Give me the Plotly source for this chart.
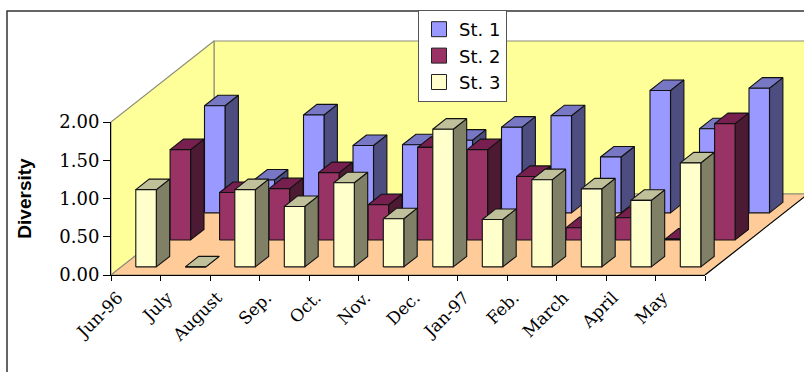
import plotly.graph_objects as go

# --- data ---
categories = ["Jun-96", "July", "August", "Sep.", "Oct.", "Nov.", "Dec.", "Jan-97", "Feb.", "March", "April", "May"]
st1 = [1.40, 0.43, 1.28, 0.88, 0.89, 0.95, 1.12, 1.27, 0.73, 1.60, 1.10, 1.63]
st2 = [1.18, 0.62, 0.67, 0.88, 0.46, 1.21, 1.18, 0.83, 0.16, 0.29, 0.01, 1.52]
st3 = [1.01, 0.00, 1.01, 0.79, 1.10, 0.63, 1.80, 0.62, 1.14, 1.02, 0.87, 1.36]
y_ticks = [0, 0.5, 1.0, 1.5, 2.0]

# --- layout in pixels ---
W, H = 804, 372
X0_PX, X1_PX = 111, 705      # front axis, left and right ends
Y0_PX, Y2_PX = 275, 122      # value 0 and value 2 on the front plane
N = len(categories)
Z = y_ticks[-1]
PX_X = (X1_PX - X0_PX) / N
PX_Y = (Y0_PX - Y2_PX) / Z

# --- oblique 3-D geometry, in axis units ---
DX, DY = 103 / PX_X, 81 / PX_Y  # shift of the back wall relative to the front plane
BAR_W, BAR_D = 0.414, 0.13      # bar width (categories) and depth (fraction of depth)
ROW_D = {"St. 1": 0.767, "St. 2": 0.433, "St. 3": 0.10}

def P(x, v, d):
    return x + d * DX, v + d * DY

def poly(points):
    xs, ys = zip(*points)
    return list(xs) + [xs[0], None], list(ys) + [ys[0], None]

def face(pts_list, fill, line, width=1.1):
    X, Y = [], []
    for pts in pts_list:
        a, b = poly(pts)
        X += a
        Y += b
    return go.Scatter(x=X, y=Y, mode="lines", fill="toself", fillcolor=fill,
                      line=dict(color=line, width=width), showlegend=False,
                      hoverinfo="skip")

fig = go.Figure()

# walls and floor
fig.add_trace(face([[P(0, 0, 1), P(N, 0, 1), P(N, Z, 1), P(0, Z, 1)]], "#FFFF99", "#8C8C78"))
fig.add_trace(face([[P(0, 0, 0), P(0, 0, 1), P(0, Z, 1), P(0, Z, 0)]], "#FFFF99", "#8C8C78"))
fig.add_trace(face([[P(0, 0, 0), P(N, 0, 0), P(N, 0, 1), P(0, 0, 1)]], "#FFCC99", "#8C8C78"))
fig.add_trace(go.Scatter(x=[P(N, 0, 0)[0], P(N, 0, 1)[0]], y=[P(N, 0, 0)[1], P(N, 0, 1)[1]],
                         mode="lines", line=dict(color="#000000", width=1.1), showlegend=False,
                         hoverinfo="skip"))

series = [
    ("St. 1", st1, "#9999FF", "#7777C4", "#4D4D80"),
    ("St. 2", st2, "#993366", "#771F4F", "#4D1A33"),
    ("St. 3", st3, "#FFFFCC", "#C0C09A", "#808066"),
]
for name, vals, c_front, c_top, c_side in series:
    d0 = ROW_D[name]
    d1 = d0 + BAR_D
    fronts, sides, tops = [], [], []
    for i, v in enumerate(vals):
        x0 = i + (1 - BAR_W) / 2
        x1 = x0 + BAR_W
        fronts.append([P(x0, 0, d0), P(x1, 0, d0), P(x1, v, d0), P(x0, v, d0)])
        sides.append([P(x1, 0, d0), P(x1, 0, d1), P(x1, v, d1), P(x1, v, d0)])
        tops.append([P(x0, v, d0), P(x1, v, d0), P(x1, v, d1), P(x0, v, d1)])
    fig.add_trace(face(sides, c_side, "#111111"))
    fig.add_trace(face(tops, c_top, "#111111"))
    fig.add_trace(face(fronts, c_front, "#111111"))

# legend entries
for name, vals, c_front, c_top, c_side in series:
    fig.add_trace(go.Scatter(x=[None], y=[None], mode="markers", name=name,
                             marker=dict(symbol="square", size=15, color=c_front,
                                         line=dict(color="#222222", width=1))))

# carrier of the visible axes (front plane)
fig.add_trace(go.Scatter(x=[None], y=[None], xaxis="x2", yaxis="y2", mode="markers",
                         showlegend=False, hoverinfo="skip"))

BOTTOM = H - Y0_PX
fig.update_layout(
    width=W, height=H, autosize=False,
    margin=dict(l=0, r=0, t=0, b=BOTTOM, pad=0, autoexpand=False),
    paper_bgcolor="white", plot_bgcolor="rgba(0,0,0,0)",
    showlegend=True,
    legend=dict(x=418 / W, y=(Y0_PX - 10) / Y0_PX, xanchor="left", yanchor="top",
                bgcolor="white", bordercolor="#555555", borderwidth=1,
                font=dict(family="DejaVu Sans", size=18, color="black"),
                entrywidth=54, entrywidthmode="pixels", traceorder="normal"),
    # full-page axes that carry the marks, at the same scale as the front axes
    xaxis=dict(visible=False, domain=[0, 1],
               range=[-X0_PX / PX_X, (W - X0_PX) / PX_X]),
    yaxis=dict(visible=False, domain=[0, 1], range=[0, Y0_PX / PX_Y]),
    # visible axes
    xaxis2=dict(domain=[X0_PX / W, X1_PX / W], anchor="y2", range=[0, N], tickmode="array",
                tickvals=list(range(N + 1)), ticktext=categories + [""], tickangle=-45,
                ticks="outside", ticklen=5, tickcolor="#000000", showgrid=False,
                zeroline=False, showline=True, linecolor="#000000", linewidth=1,
                ticklabelshift=7, ticklabelstandoff=0,
                tickfont=dict(family="DejaVu Serif", size=17, color="black")),
    yaxis2=dict(domain=[0, (Y0_PX - Y2_PX) / Y0_PX], anchor="x2", range=[0, Z], tickmode="array",
                tickvals=y_ticks, ticktext=[f"{v:.2f}" for v in y_ticks], ticks="outside",
                ticklen=7, tickcolor="#000000", showgrid=False, zeroline=False, showline=True,
                linecolor="#000000", linewidth=1,
                tickfont=dict(family="DejaVu Serif", size=18, color="black"),
                title=dict(text="<b>Diversity</b>", standoff=22,
                           font=dict(family="Liberation Sans", size=19, color="black"))),
    shapes=[dict(type="rect", xref="paper", yref="paper", layer="below",
                 x0=7 / W, x1=830 / W, y0=(Y0_PX - 400) / Y0_PX, y1=(Y0_PX - 11) / Y0_PX,
                 line=dict(color="#333333", width=1.5), fillcolor="white")],
)

fig.write_html("out.html", config={"displayModeBar": False},
               post_script="document.body.style.margin='0';document.body.style.overflow='hidden';")
